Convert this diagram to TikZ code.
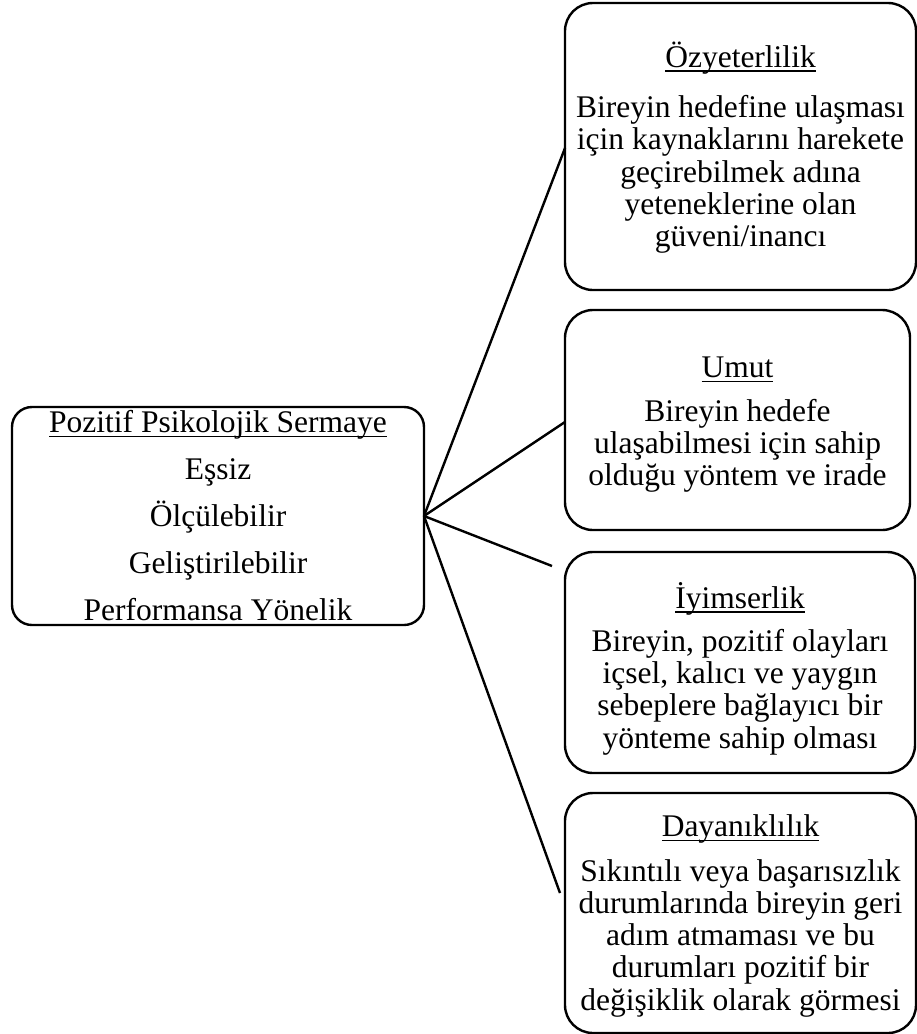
\documentclass[tikz,border=0pt]{standalone}
\usepackage{fontspec}
\setmainfont{Liberation Serif}
\newcommand{\tul}[1]{\setbox0\hbox{#1}\rlap{\rule[-4.5pt]{\wd0}{1.7pt}}\box0}
\begin{document}
\begin{tikzpicture}[x=1pt,y=1pt,
  box/.style={draw=black, line width=2.4pt, rounded corners=28pt, inner sep=0pt, outer sep=0pt, anchor=north west},
  lbox/.style={draw=black, line width=2.4pt, rounded corners=20pt, inner sep=0pt, outer sep=0pt, anchor=north west},
  txt/.style={inner sep=0pt, align=center, font=\fontsize{31.5}{32.3}\selectfont},
  ltxt/.style={inner sep=0pt, align=center, font=\fontsize{31.5}{47}\selectfont},
  link/.style={line width=2.4pt}]
\useasboundingbox (0,0) rectangle (917,-1034);
\node[lbox, minimum width=412pt, minimum height=218pt] (L) at (12,-407) {};
\node[ltxt, yshift=0pt] (LT) at (L.center)
  {\tul{Pozitif Psikolojik Sermaye}\\Eşsiz\\Ölçülebilir\\Geliştirilebilir\\Performansa Yönelik};
\node[box, minimum width=351pt, minimum height=287pt] (B1) at (565,-3) {};
\node[txt, yshift=-1pt] (T1) at (B1.center)
  {\tul{Özyeterlilik}\\[18pt]Bireyin hedefine ulaşması\\için kaynaklarını harekete\\geçirebilmek adına\\yeteneklerine olan\\güveni/inancı};
\node[box, minimum width=345pt, minimum height=220pt] (B2) at (565,-310) {};
\node[txt, yshift=-5pt] (T2) at (B2.center)
  {\tul{Umut}\\[11pt]Bireyin hedefe\\ulaşabilmesi için sahip\\olduğu yöntem ve irade};
\node[box, minimum width=350pt, minimum height=221pt] (B3) at (565,-552) {};
\node[txt, yshift=-6pt] (T3) at (B3.center)
  {\tul{İyimserlik}\\[11pt]Bireyin, pozitif olayları\\içsel, kalıcı ve yaygın\\sebeplere bağlayıcı bir\\yönteme sahip olması};
\node[box, minimum width=351pt, minimum height=240pt] (B4) at (565,-793) {};
\node[txt, yshift=-3pt] (T4) at (B4.center)
  {\tul{Dayanıklılık}\\[12pt]Sıkıntılı veya başarısızlık\\durumlarında bireyin geri\\adım atmaması ve bu\\durumları pozitif bir\\değişiklik olarak görmesi};
\coordinate (e1) at (565,-148);
\coordinate (e2) at (565,-422);
\coordinate (e3) at (552,-566);
\coordinate (e4) at (560,-893);
\draw[link] (L.east) -- (e1);
\draw[link] (L.east) -- (e2);
\draw[link] (L.east) -- (e3);
\draw[link] (L.east) -- (e4);
\end{tikzpicture}
\end{document}
